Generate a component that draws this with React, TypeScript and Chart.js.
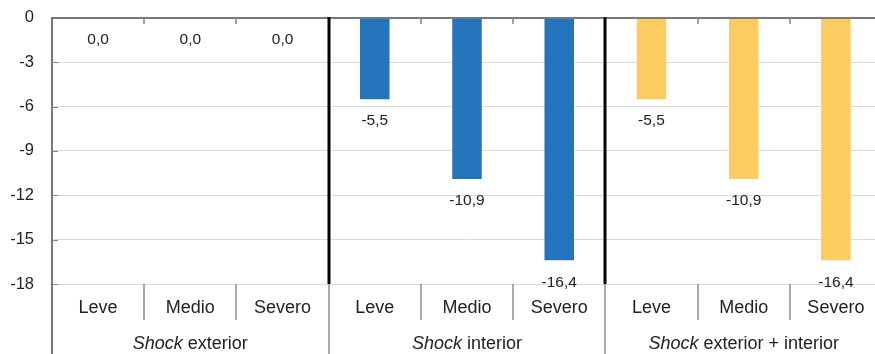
import React, { useEffect, useRef } from "react";
import { Chart, registerables } from "chart.js";

Chart.register(...registerables);

// Severity scenarios inside each shock group
const severities = ["Leve", "Medio", "Severo"];
// Group titles: italic prefix + regular suffix
const groupPrefix = ["Shock", "Shock", "Shock"];
const groupSuffix = [" exterior", " interior", " exterior + interior"];

// Values per group (Leve, Medio, Severo)
const shockExterior = [0.0, 0.0, 0.0];
const shockInterior = [-5.5, -10.9, -16.4];
const shockCombined = [-5.5, -10.9, -16.4];

// Y axis range and step
const yMin = -18;
const yMax = 0;
const yStep = 3;

const colors = ["#9aa0a6", "#2473bd", "#fdcb60"];
const FONT = "'Liberation Sans', Arial, Helvetica, sans-serif";

const groupValues = [shockExterior, shockInterior, shockCombined];
const labels = groupValues.flatMap(() => severities);

function spread(values: number[], groupIndex: number): (number | null)[] {
  const out: (number | null)[] = labels.map(() => null);
  values.forEach((v, i) => {
    out[groupIndex * severities.length + i] = v;
  });
  return out;
}

const fmt = (v: number) => v.toFixed(1).replace(".", ",");

const decorPlugin = {
  id: "decor",
  afterDatasetsDraw(chart: any) {
    const { ctx, chartArea, scales } = chart;
    const x = scales.x;
    const y = scales.y;
    const n = labels.length;
    const w = (chartArea.right - chartArea.left) / n;
    const bottom = chartArea.bottom;
    const canvasH = chart.height;

    ctx.save();

    // value labels under each bar end
    ctx.fillStyle = "#222";
    ctx.font = `15.5px ${FONT}`;
    ctx.textAlign = "center";
    ctx.textBaseline = "middle";
    chart.data.datasets.forEach((ds: any, di: number) => {
      const meta = chart.getDatasetMeta(di);
      meta.data.forEach((bar: any, i: number) => {
        const v = ds.data[i];
        if (v === null || v === undefined) return;
        ctx.fillText(fmt(v), bar.x, bar.y + 22);
      });
    });

    // inner y tick marks
    ctx.strokeStyle = "#808488";
    ctx.lineWidth = 1;
    for (let v = yMin; v < yMax; v += yStep) {
      const py = Math.round(y.getPixelForValue(v)) + 0.5;
      ctx.beginPath();
      ctx.moveTo(chartArea.left, py);
      ctx.lineTo(chartArea.left + 6, py);
      ctx.stroke();
    }

    // zero line
    const y0 = y.getPixelForValue(0);
    ctx.strokeStyle = "#76797c";
    ctx.lineWidth = 2;
    ctx.beginPath();
    ctx.moveTo(chartArea.left - 1, y0);
    ctx.lineTo(chartArea.right, y0);
    ctx.stroke();

    // category ticks hanging from the zero line, separators below the axis
    for (let i = 1; i < n; i++) {
      const px = Math.round(chartArea.left + i * w);
      if (i % severities.length === 0) continue;
      ctx.strokeStyle = "#808488";
      ctx.lineWidth = 1.5;
      ctx.beginPath();
      ctx.moveTo(px, y0);
      ctx.lineTo(px, y0 + 6);
      ctx.stroke();

      ctx.strokeStyle = "#8a8d90";
      ctx.beginPath();
      ctx.moveTo(px, bottom);
      ctx.lineTo(px, bottom + 36);
      ctx.stroke();
    }

    // group boundaries
    for (let g = 0; g <= groupValues.length; g++) {
      const px = Math.round(chartArea.left + g * severities.length * w);
      if (g > 0 && g < groupValues.length) {
        ctx.strokeStyle = "#000";
        ctx.lineWidth = 3;
        ctx.beginPath();
        ctx.moveTo(px, y0 - 1);
        ctx.lineTo(px, bottom);
        ctx.stroke();
      }
      ctx.strokeStyle = g === 0 ? "#76797c" : "#8a8d90";
      ctx.lineWidth = g === 0 ? 2 : 1.5;
      ctx.beginPath();
      ctx.moveTo(px, bottom);
      ctx.lineTo(px, canvasH);
      ctx.stroke();
    }

    // category labels
    ctx.fillStyle = "#222";
    ctx.font = `18px ${FONT}`;
    ctx.textAlign = "center";
    ctx.textBaseline = "middle";
    labels.forEach((lab, i) => {
      ctx.fillText(lab, x.getPixelForValue(i), bottom + 24);
    });

    // group labels with italic prefix
    groupValues.forEach((_, g) => {
      const gl = chartArea.left + g * severities.length * w;
      const cx = gl + (severities.length * w) / 2;
      const italic = `italic 18px ${FONT}`;
      const normal = `18px ${FONT}`;
      ctx.font = italic;
      const w1 = ctx.measureText(groupPrefix[g]).width;
      ctx.font = normal;
      const w2 = ctx.measureText(groupSuffix[g]).width;
      const start = cx - (w1 + w2) / 2;
      const ty = bottom + 60;
      ctx.textAlign = "left";
      ctx.font = italic;
      ctx.fillText(groupPrefix[g], start, ty);
      ctx.font = normal;
      ctx.fillText(groupSuffix[g], start + w1, ty);
    });

    ctx.restore();
  },
};

export default function App() {
  const canvasRef = useRef<HTMLCanvasElement | null>(null);

  useEffect(() => {
    if (!canvasRef.current) return;
    const chart = new Chart(canvasRef.current, {
      type: "bar",
      data: {
        labels,
        datasets: groupValues.map((vals, g) => ({
          label: groupPrefix[g] + groupSuffix[g],
          data: spread(vals, g),
          backgroundColor: colors[g],
          borderWidth: 0,
          barPercentage: 0.32,
          categoryPercentage: 1,
        })),
      },
      options: {
        responsive: false,
        animation: false,
        devicePixelRatio: 1,
        layout: { padding: { top: 7, right: 18, left: 0, bottom: 0 } },
        plugins: {
          legend: { display: false },
          tooltip: { enabled: false },
        },
        scales: {
          x: {
            stacked: true,
            offset: true,
            grid: { display: false },
            border: { display: false },
            ticks: { display: false },
            afterFit(scale: any) {
              scale.height = 76;
            },
          },
          y: {
            stacked: true,
            min: yMin,
            max: yMax,
            ticks: {
              stepSize: yStep,
              padding: 18,
              color: "#222",
              font: { family: FONT, size: 16.5 },
            },
            grid: {
              drawTicks: false,
              color: (c: any) => (c.tick && c.tick.value === 0 ? "rgba(0,0,0,0)" : "#dadada"),
              lineWidth: 1,
            },
            border: { display: true, color: "#76797c", width: 2 },
            afterFit(scale: any) {
              scale.width = 52;
            },
          },
        },
      },
      plugins: [decorPlugin],
    });
    return () => chart.destroy();
  }, []);

  return (
    <div
      style={{
        position: "fixed",
        left: 0,
        top: 0,
        width: 875,
        height: 354,
        overflow: "hidden",
        background: "#fff",
      }}
    >
      <canvas
        ref={canvasRef}
        width={900}
        height={370}
        style={{ display: "block", position: "absolute", left: 0, top: -10 }}
      />
    </div>
  );
}
